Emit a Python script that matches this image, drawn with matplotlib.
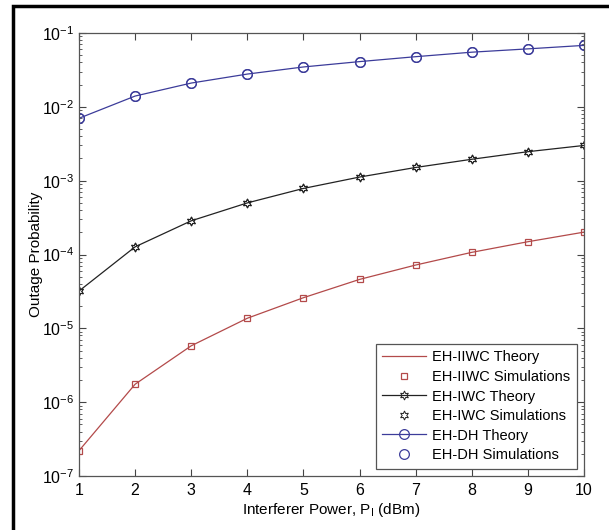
import numpy as np
import matplotlib
matplotlib.use("Agg")
import matplotlib.pyplot as plt
from matplotlib.patches import Rectangle

plt.rcParams['font.family'] = ['Liberation Sans', 'DejaVu Sans']
plt.rcParams['mathtext.fontset'] = 'custom'
plt.rcParams['mathtext.rm'] = 'Liberation Sans'

# data
power_dbm = [1, 2, 3, 4, 5, 6, 7, 8, 9, 10]
eh_iiwc = [2.2e-7, 1.75e-6, 5.8e-6, 1.37e-5, 2.6e-5, 4.6e-5, 7.2e-5, 1.07e-4, 1.49e-4, 2.01e-4]
eh_iwc = [3.2e-5, 1.27e-4, 2.86e-4, 5.0e-4, 7.85e-4, 1.12e-3, 1.51e-3, 1.95e-3, 2.47e-3, 3.0e-3]
eh_dh = [7.0e-3, 1.4e-2, 2.1e-2, 2.78e-2, 3.47e-2, 4.1e-2, 4.78e-2, 5.5e-2, 6.1e-2, 6.8e-2]

red = '#b34a4a'
black = '#222222'
blue = '#3c3c9a'
hexagram = (6, 1, 0)

fig = plt.figure(figsize=(6.09, 5.30), dpi=100)
ax = fig.add_axes([0.1297, 0.1019, 0.8293, 0.8358])

# figure frame (cut off at right and bottom like the reference)
fig.patches.append(Rectangle((13 / 609, -0.05), 1.1, 1 - 6 / 530 + 0.05,
                             transform=fig.transFigure, fill=False,
                             edgecolor='black', linewidth=2.5))

ax.plot(power_dbm, eh_iiwc, '-', color=red, lw=0.9, label='EH-IIWC Theory')
ax.plot(power_dbm, eh_iiwc, 's', color=red, mfc='none', ms=5, mew=0.9,
        label='EH-IIWC Simulations')
ax.plot(power_dbm, eh_iwc, '-', color=black, lw=0.9, marker=hexagram, mfc='none',
        ms=6.5, mew=0.7, label='EH-IWC Theory')
ax.plot(power_dbm, eh_iwc, linestyle='none', color=black, marker=hexagram, mfc='none',
        ms=6.5, mew=0.7, label='EH-IWC Simulations')
ax.plot(power_dbm, eh_dh, '-', color=blue, lw=0.9, marker='o', mfc='none',
        ms=7, mew=0.9, label='EH-DH Theory')
ax.plot(power_dbm, eh_dh, 'o', color=blue, mfc='none', ms=7, mew=0.9,
        label='EH-DH Simulations')

ax.set_yscale('log')
ax.set_xlim(1, 10)
ax.set_ylim(1e-7, 1e-1)
ax.set_xticks(power_dbm)
ax.set_yticks([1e-7, 1e-6, 1e-5, 1e-4, 1e-3, 1e-2, 1e-1])

ax.tick_params(which='both', direction='in', top=True, right=True,
               labelsize=11.5, color='#444444')
ax.tick_params(which='major', length=5)
ax.tick_params(which='minor', length=2.5)
ax.tick_params(axis='x', which='minor', top=False, bottom=False)
ax.tick_params(axis='x', pad=5)
for sp in ax.spines.values():
    sp.set_color('#555555')
    sp.set_linewidth(0.9)

ax.set_xlabel('Interferer Power, P$_\\mathrm{I}$ (dBm)', fontsize=11, labelpad=2)
ax.set_ylabel('Outage Probability', fontsize=11)
ax.yaxis.set_label_coords(-0.071, 0.5)

leg = ax.legend(loc='lower right', fontsize=10.5, fancybox=False, framealpha=1,
                edgecolor='#555555', handlelength=3.0, handletextpad=0.4,
                borderaxespad=0.5, labelspacing=0.38, borderpad=0.45)
leg.get_frame().set_linewidth(0.9)

fig.savefig('out.png', dpi=100)
